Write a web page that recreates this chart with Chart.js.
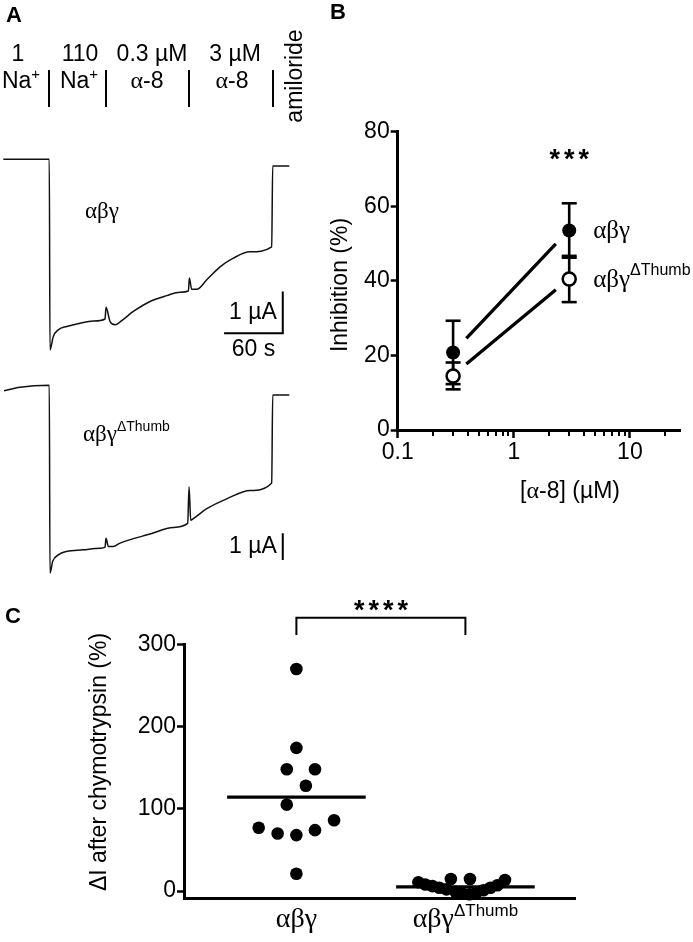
<!DOCTYPE html>
<html>
<head>
<meta charset="utf-8">
<script src="https://cdn.jsdelivr.net/npm/chart.js@4.4.1/dist/chart.umd.min.js"></script>
<style>
  html, body { margin: 0; padding: 0; background: #fff; }
  body { width: 693px; height: 942px; position: relative; overflow: hidden; }
  canvas { position: absolute; }
  #chartA { left: 0; top: 0; }
  #chartB { left: 330px; top: 0; }
  #chartC { left: 0; top: 580px; }
</style>
</head>
<body>
<canvas id="chartA" width="330" height="580"></canvas>
<canvas id="chartB" width="363" height="520"></canvas>
<canvas id="chartC" width="693" height="362"></canvas>
<script>
// panel A: current traces, time in s, current in µA
const traceTimeWT = [0, 47, 47.7, 51.1, 56.2, 64.8, 78.4, 92, 104, 105, 109.1, 114.2, 121.1, 132.9, 150, 167.1, 180.7, 189.2, 190.2, 192.6, 197.7, 208, 221.6, 235.2, 252.2, 274.4, 275.4, 292.4];
const traceCurrentWT = [0, 0, -4.57, -4.25, -4.09, -4.01, -3.93, -3.88, -3.83, -3.55, -3.89, -3.97, -3.87, -3.65, -3.41, -3.27, -3.19, -3.16, -2.85, -3.12, -3.12, -2.89, -2.58, -2.37, -2.22, -2.10, -0.16, -0.16];
const traceTimeThumb = [0.7, 17.1, 47, 47.7, 50.5, 56.2, 64.8, 81.8, 98.9, 104, 105, 107.4, 112.5, 119.3, 150, 173.8, 188.5, 189.9, 191.6, 194.3, 208, 228.4, 252.2, 274.4, 275.4, 292.4];
const traceCurrentThumb = [-0.2, -0.07, 0, -7.03, -6.59, -6.35, -6.22, -6.16, -6.10, -6.06, -5.73, -6.04, -6.04, -5.91, -5.57, -5.32, -5.17, -3.81, -5.05, -4.99, -4.62, -4.25, -3.94, -3.66, -0.36, -0.36];
const solutionChanges = [47, 105, 190, 276];

// panel B: inhibition by alpha-8
const alpha8Conc = [0.3, 3];
const inhibitionWT = [20.8, 53.5];
const inhibitionWTSem = [8.5, 7.3];
const inhibitionThumb = [14.5, 40.5];
const inhibitionThumbSem = [3.6, 6.2];
const fitConc = [0.39, 2.3];
const fitWT = [24.6, 49.9];
const fitThumb = [17.7, 37.6];
const xTicksB = [0.1, 1, 10];
const xMinorB = [0.2, 0.3, 0.4, 0.5, 0.6, 0.7, 0.8, 0.9, 2, 3, 4, 5, 6, 7, 8, 9, 20];
const yTicksB = [0, 20, 40, 60, 80];

// panel C: current increase after chymotrypsin
const groupLabels = ['αβγ', 'αβγ'];
const groupSuper = ['', 'ΔThumb'];
const chymoWT = [270, 174, 148, 148, 128, 105, 77, 70, 68, 74, 86, 21];
const chymoWTJitter = [0, 0, -0.057, 0.11, 0.056, -0.057, -0.223, -0.111, 0, 0.11, 0.223, 0];
const chymoThumb = [10.6, 8, 6, 4, 2, 14.6, -1, -3, 14.6, -4, -2, 1, 4, 7, 13.3];
const chymoThumbJitter = [-0.278, -0.237, -0.195, -0.154, -0.112, -0.086, -0.059, -0.018, 0.027, 0.024, 0.065, 0.107, 0.148, 0.189, 0.234];
const yTicksC = [0, 100, 200, 300];

const SANS = '"Liberation Sans", Arial, sans-serif';
const SERIF = '"Liberation Serif", "Times New Roman", serif';

const toPts = (xs, ys) => xs.map((x, i) => ({ x: x, y: ys[i] }));
const mean = arr => arr.reduce((a, b) => a + b, 0) / arr.length;

function rich(ctx, parts, x, y, align) {
    let w = 0;
    parts.forEach(p => { ctx.font = p.font; w += ctx.measureText(p.text).width; });
    let cx = align === 'center' ? x - w / 2 : (align === 'right' ? x - w : x);
    ctx.textAlign = 'left';
    ctx.textBaseline = 'middle';
    ctx.fillStyle = '#000';
    parts.forEach(p => {
        ctx.font = p.font;
        ctx.fillText(p.text, cx, y + (p.dy || 0));
        cx += ctx.measureText(p.text).width;
    });
}

function vText(ctx, text, font, x, y) {
    ctx.save();
    ctx.translate(x, y);
    ctx.rotate(-Math.PI / 2);
    ctx.font = font;
    ctx.fillStyle = '#000';
    ctx.textAlign = 'center';
    ctx.textBaseline = 'middle';
    ctx.fillText(text, 0, 0);
    ctx.restore();
}

function stars(ctx, n, cx, cy, gap, size) {
    ctx.font = 'bold ' + size + 'px ' + SANS;
    ctx.fillStyle = '#000';
    ctx.textAlign = 'center';
    ctx.textBaseline = 'alphabetic';
    for (let i = 0; i < n; i++) {
        ctx.fillText('*', cx + (i - (n - 1) / 2) * gap, cy + 0.585 * size);
    }
}

function line(ctx, x0, y0, x1, y1) {
    ctx.beginPath();
    ctx.moveTo(x0, y0);
    ctx.lineTo(x1, y1);
    ctx.stroke();
}

const baseOptions = {
    responsive: false,
    animation: false,
    devicePixelRatio: 1,
    events: [],
    plugins: { legend: { display: false }, tooltip: { enabled: false } }
};

// ---------------- panel A
const panelA = {
    id: 'panelA',
    afterDraw(chart) {
        const ctx = chart.ctx;
        const x = chart.scales.x, y1 = chart.scales.y1, y2 = chart.scales.y2;
        ctx.save();
        rich(ctx, [{ text: 'A', font: 'bold 22px ' + SANS }], 14, 16, 'center');

        const f = '23px ' + SANS;
        const sup = { text: '+', font: '15px ' + SANS, dy: -7 };
        rich(ctx, [{ text: '1', font: f }], 18, 55, 'center');
        rich(ctx, [{ text: '110', font: f }], 80, 55, 'center');
        rich(ctx, [{ text: '0.3 µM', font: f }], 152, 55, 'center');
        rich(ctx, [{ text: '3 µM', font: f }], 235, 55, 'center');
        rich(ctx, [{ text: 'Na', font: f }, sup], 21, 82, 'center');
        rich(ctx, [{ text: 'Na', font: f }, sup], 79, 82, 'center');
        rich(ctx, [{ text: 'α', font: '24px ' + SERIF }, { text: '-8', font: f }], 147, 82, 'center');
        rich(ctx, [{ text: 'α', font: '24px ' + SERIF }, { text: '-8', font: f }], 232, 82, 'center');
        vText(ctx, 'amiloride', f, 296, 76);

        ctx.strokeStyle = '#000';
        ctx.lineWidth = 2;
        solutionChanges.forEach(t => {
            const px = Math.round(x.getPixelForValue(t));
            line(ctx, px, 70, px, 107);
        });

        rich(ctx, [{ text: 'αβγ', font: '23px ' + SERIF }], 102, 212, 'center');
        rich(ctx, [{ text: 'αβγ', font: '23px ' + SERIF }, { text: 'ΔThumb', font: '14px ' + SANS, dy: -8 }], 83, 435, 'left');

        // scale bars
        const xb = x.getPixelForValue(285.7);
        line(ctx, xb, y1.getPixelForValue(-3.17), xb, y1.getPixelForValue(-4.17));
        line(ctx, x.getPixelForValue(225.7), y1.getPixelForValue(-4.17), xb + 1, y1.getPixelForValue(-4.17));
        rich(ctx, [{ text: '1 µA', font: f }], xb - 6, y1.getPixelForValue(-3.67), 'right');
        rich(ctx, [{ text: '60 s', font: f }], x.getPixelForValue(255.7), y1.getPixelForValue(-4.17) + 17, 'center');
        line(ctx, xb, y2.getPixelForValue(-5.54), xb, y2.getPixelForValue(-6.54));
        rich(ctx, [{ text: '1 µA', font: f }], xb - 6, y2.getPixelForValue(-6.04), 'right');
        ctx.restore();
    }
};

new Chart(document.getElementById('chartA'), {
    type: 'line',
    data: {
        datasets: [
            { data: toPts(traceTimeWT, traceCurrentWT), yAxisID: 'y1', borderColor: '#111', borderWidth: 1.5, pointRadius: 0, cubicInterpolationMode: 'monotone', clip: false },
            { data: toPts(traceTimeThumb, traceCurrentThumb), yAxisID: 'y2', borderColor: '#111', borderWidth: 1.5, pointRadius: 0, cubicInterpolationMode: 'monotone', clip: false }
        ]
    },
    options: Object.assign({}, baseOptions, {
        layout: { padding: 0 },
        scales: {
            x: { type: 'linear', min: -3.4, max: 334, display: false },
            y1: { type: 'linear', min: -10.09, max: 3.82, display: false },
            y2: { type: 'linear', min: -7.29, max: 14.43, display: false }
        }
    }),
    plugins: [panelA]
});

// ---------------- panel B
const panelB = {
    id: 'panelB',
    beforeDatasetsDraw(chart) {
        const ctx = chart.ctx, xs = chart.scales.x, ys = chart.scales.y;
        ctx.save();
        ctx.strokeStyle = '#000';
        ctx.lineWidth = 2.6;
        chart.data.datasets.forEach(ds => {
            if (!ds.errors) return;
            ds.data.forEach((p, i) => {
                const px = xs.getPixelForValue(p.x);
                const top = ys.getPixelForValue(p.y + ds.errors[i]);
                const bot = ys.getPixelForValue(p.y - ds.errors[i]);
                line(ctx, px, top, px, bot);
                line(ctx, px - 7.5, top, px + 7.5, top);
                line(ctx, px - 7.5, bot, px + 7.5, bot);
            });
        });
        ctx.restore();
    },
    afterDraw(chart) {
        const ctx = chart.ctx, xs = chart.scales.x, ys = chart.scales.y;
        ctx.save();
        ctx.strokeStyle = '#000';
        ctx.lineWidth = 2;
        xMinorB.forEach(v => {
            const px = Math.round(xs.getPixelForValue(v));
            line(ctx, px, xs.top, px, xs.top + 6);
        });
        rich(ctx, [{ text: 'B', font: 'bold 22px ' + SANS }], 8, 13, 'center');
        vText(ctx, 'Inhibition (%)', '23px ' + SANS, 11, 285);
        rich(ctx, [{ text: '[', font: '23px ' + SANS }, { text: 'α', font: '24px ' + SERIF }, { text: '-8] (µM)', font: '23px ' + SANS }], 240, 492, 'center');

        const lx = xs.getPixelForValue(alpha8Conc[1]) + 24;
        rich(ctx, [{ text: 'αβγ', font: '25px ' + SERIF }], lx, ys.getPixelForValue(inhibitionWT[1]) + 1, 'left');
        rich(ctx, [{ text: 'αβγ', font: '25px ' + SERIF }, { text: 'ΔThumb', font: '16px ' + SANS, dy: -9 }], lx, ys.getPixelForValue(inhibitionThumb[1]) + 1, 'left');
        stars(ctx, 3, xs.getPixelForValue(alpha8Conc[1]), ys.getPixelForValue(74.6), 14.5, 27);
        ctx.restore();
    }
};

new Chart(document.getElementById('chartB'), {
    type: 'scatter',
    data: {
        datasets: [
            { data: toPts(fitConc, fitWT), showLine: true, borderColor: '#000', borderWidth: 3.3, borderCapStyle: 'butt', pointRadius: 0, clip: false },
            { data: toPts(fitConc, fitThumb), showLine: true, borderColor: '#000', borderWidth: 3.3, borderCapStyle: 'butt', pointRadius: 0, clip: false },
            { data: toPts(alpha8Conc, inhibitionThumb), errors: inhibitionThumbSem, pointRadius: 6.5, pointBackgroundColor: '#fff', pointBorderColor: '#000', pointBorderWidth: 2.5, clip: false },
            { data: toPts(alpha8Conc, inhibitionWT), errors: inhibitionWTSem, pointRadius: 7, pointBackgroundColor: '#000', pointBorderColor: '#000', pointBorderWidth: 0, clip: false }
        ]
    },
    options: Object.assign({}, baseOptions, {
        layout: { padding: { top: 131.7, right: 13, left: 0, bottom: 0 } },
        scales: {
            x: {
                type: 'logarithmic', min: 0.1, max: 27,
                afterBuildTicks: s => { s.ticks = xTicksB.map(v => ({ value: v })); },
                afterFit: s => { s.height = 90; },
                grid: { drawOnChartArea: false, tickLength: 8, tickWidth: 2.5, tickColor: '#000' },
                border: { color: '#000', width: 3 },
                ticks: { color: '#000', font: { family: SANS, size: 23 }, padding: 1, maxRotation: 0, autoSkip: false, callback: v => String(v) }
            },
            y: {
                type: 'linear', min: 0, max: 80,
                afterBuildTicks: s => { s.ticks = yTicksB.map(v => ({ value: v })); },
                afterFit: s => { s.width = 67.7; },
                grid: { drawOnChartArea: false, tickLength: 7, tickWidth: 2.5, tickColor: '#000' },
                border: { color: '#000', width: 3 },
                ticks: { color: '#000', font: { family: SANS, size: 23 }, padding: 1 }
            }
        }
    }),
    plugins: [panelB]
});

// ---------------- panel C
const meanHalf = 0.41;
const panelC = {
    id: 'panelC',
    afterDraw(chart) {
        const ctx = chart.ctx, xs = chart.scales.x, ys = chart.scales.y;
        ctx.save();
        rich(ctx, [{ text: 'C', font: 'bold 22px ' + SANS }], 13, 37, 'center');
        vText(ctx, 'ΔI after chymotrypsin (%)', '23px ' + SANS, 100, 182);
        groupLabels.forEach((g, i) => {
            const parts = [{ text: g, font: '28px ' + SERIF }];
            if (groupSuper[i]) parts.push({ text: groupSuper[i], font: '17px ' + SANS, dy: -9 });
            rich(ctx, parts, xs.getPixelForValue(i), ys.bottom + 22, 'center');
        });
        const bx0 = xs.getPixelForValue(0), bx1 = xs.getPixelForValue(1);
        const by = ys.getPixelForValue(332.3), byEnd = ys.getPixelForValue(311.3);
        ctx.strokeStyle = '#000';
        ctx.lineWidth = 2;
        ctx.beginPath();
        ctx.moveTo(bx0, byEnd);
        ctx.lineTo(bx0, by);
        ctx.lineTo(bx1, by);
        ctx.lineTo(bx1, byEnd);
        ctx.stroke();
        stars(ctx, 4, (bx0 + bx1) / 2, ys.getPixelForValue(350), 14.5, 27);
        ctx.restore();
    }
};

const meanWT = mean(chymoWT);
const meanThumb = mean(chymoThumb);

new Chart(document.getElementById('chartC'), {
    type: 'scatter',
    data: {
        datasets: [
            { data: chymoWT.map((v, i) => ({ x: 0 + chymoWTJitter[i], y: v })), pointRadius: 6.3, pointBackgroundColor: '#000', pointBorderWidth: 0, clip: false },
            { data: chymoThumb.map((v, i) => ({ x: 1 + chymoThumbJitter[i], y: v })), pointRadius: 6.3, pointBackgroundColor: '#000', pointBorderWidth: 0, clip: false },
            { data: [{ x: -meanHalf, y: meanWT }, { x: meanHalf, y: meanWT }], showLine: true, borderColor: '#000', borderWidth: 3.3, borderCapStyle: 'butt', pointRadius: 0, clip: false },
            { data: [{ x: 1 - meanHalf, y: meanThumb }, { x: 1 + meanHalf, y: meanThumb }], showLine: true, borderColor: '#000', borderWidth: 3.3, borderCapStyle: 'butt', pointRadius: 0, clip: false }
        ]
    },
    options: Object.assign({}, baseOptions, {
        layout: { padding: { top: 64.3, right: 117.4, left: 0, bottom: 0 } },
        scales: {
            x: {
                type: 'linear', min: -0.665, max: 1.652,
                afterFit: s => { s.height = 44; },
                grid: { drawOnChartArea: false, drawTicks: false },
                border: { color: '#000', width: 3 },
                ticks: { display: false }
            },
            y: {
                type: 'linear', min: -8.5, max: 300,
                afterBuildTicks: s => { s.ticks = yTicksC.map(v => ({ value: v })); },
                afterFit: s => { s.width = 184; },
                grid: { drawOnChartArea: false, tickLength: 7, tickWidth: 2.5, tickColor: '#000' },
                border: { color: '#000', width: 3 },
                ticks: { color: '#000', font: { family: SANS, size: 23 }, padding: 1 }
            }
        }
    }),
    plugins: [panelC]
});
</script>
</body>
</html>
